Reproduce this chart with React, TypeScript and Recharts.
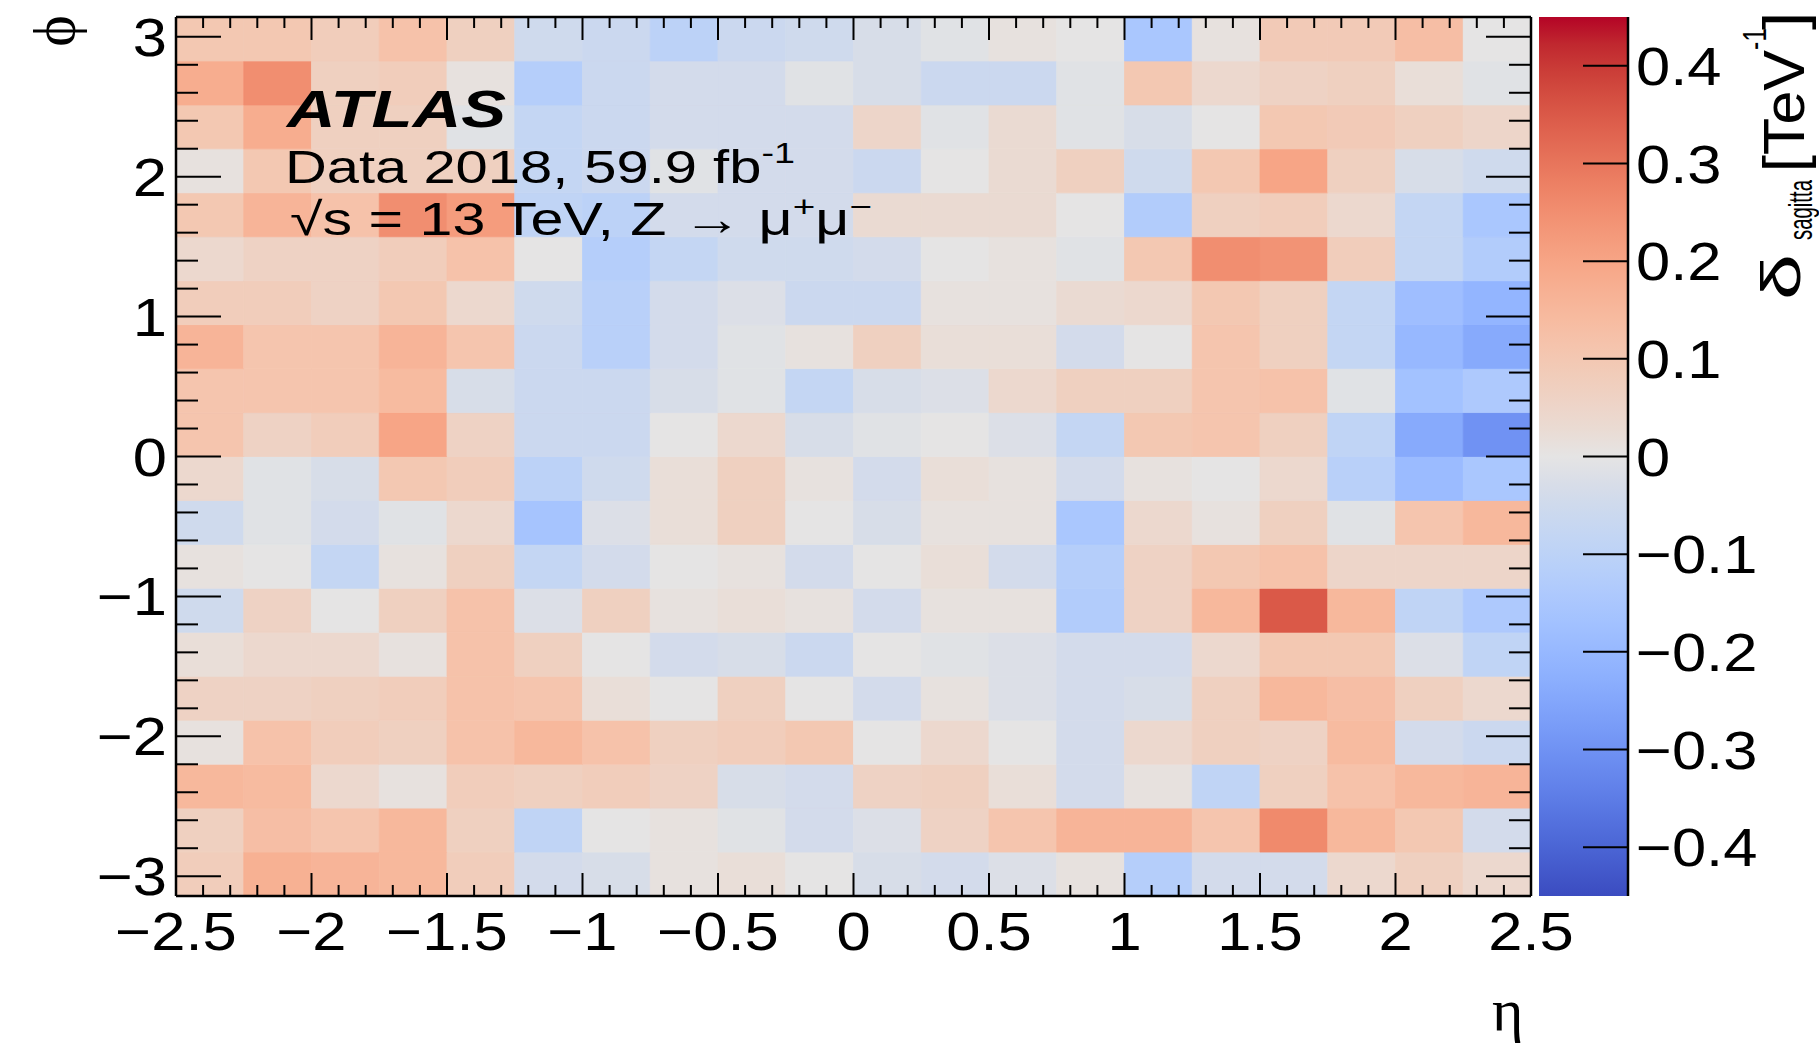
import React from "react";
import { ScatterChart, Scatter, XAxis, YAxis, ReferenceArea } from "recharts";

// bin edges of the 2D histogram
const ETA_EDGES = [
  -2.5, -2.25, -2.0, -1.75, -1.5, -1.25, -1.0, -0.75, -0.5, -0.25, 0,
  0.25, 0.5, 0.75, 1.0, 1.25, 1.5, 1.75, 2.0, 2.25, 2.5,
];
const PHI_EDGES = [
  -3.14159, -2.82743, -2.51327, -2.19911, -1.88496, -1.5708, -1.25664, -0.94248,
  -0.62832, -0.31416, 0, 0.31416, 0.62832, 0.94248, 1.25664, 1.5708, 1.88496,
  2.19911, 2.51327, 2.82743, 3.14159,
];

// delta_sagitta [TeV^-1], one array per phi bin (bottom to top), eta from -2.5 to 2.5
const phiBin01 = [0.08, 0.17, 0.16, 0.15, 0.08, -0.04, -0.03, 0.01, 0.02, 0.0, -0.03, -0.04, -0.02, 0.01, -0.12, -0.04, -0.04, 0.04, 0.07, 0.04];
const phiBin02 = [0.07, 0.13, 0.11, 0.15, 0.07, -0.09, 0.0, 0.01, -0.01, -0.04, -0.02, 0.06, 0.11, 0.16, 0.16, 0.11, 0.26, 0.15, 0.1, -0.04];
const phiBin03 = [0.15, 0.14, 0.04, 0.01, 0.08, 0.07, 0.08, 0.06, -0.03, -0.04, 0.06, 0.07, 0.02, -0.04, 0.01, -0.09, 0.07, 0.12, 0.15, 0.16];
const phiBin04 = [0.01, 0.12, 0.08, 0.07, 0.12, 0.15, 0.12, 0.07, 0.08, 0.1, 0.0, 0.04, 0.0, -0.04, 0.04, 0.07, 0.06, 0.14, -0.04, -0.06];
const phiBin05 = [0.06, 0.06, 0.07, 0.08, 0.12, 0.11, 0.02, 0.0, 0.07, 0.0, -0.04, 0.01, -0.02, -0.04, -0.03, 0.07, 0.15, 0.13, 0.07, 0.04];
const phiBin06 = [0.02, 0.04, 0.04, 0.01, 0.12, 0.07, 0.0, -0.04, -0.03, -0.06, 0.0, -0.01, -0.02, -0.04, -0.04, 0.04, 0.1, 0.1, -0.02, -0.09];
const phiBin07 = [-0.05, 0.06, 0.0, 0.07, 0.12, -0.02, 0.07, 0.01, 0.02, 0.01, -0.04, 0.01, 0.01, -0.13, 0.06, 0.15, 0.35, 0.15, -0.09, -0.14];
const phiBin08 = [0.01, 0.0, -0.08, 0.01, 0.07, -0.08, -0.04, 0.0, 0.01, -0.04, 0.0, 0.02, -0.04, -0.12, 0.06, 0.1, 0.12, 0.05, 0.05, 0.05];
const phiBin09 = [-0.05, -0.01, -0.04, -0.01, 0.04, -0.16, -0.02, 0.02, 0.07, 0.0, -0.03, 0.01, 0.01, -0.15, 0.04, 0.01, 0.07, -0.01, 0.11, 0.15];
const phiBin10 = [0.04, -0.01, -0.03, 0.1, 0.08, -0.1, -0.05, 0.02, 0.07, 0.01, -0.04, 0.02, 0.01, -0.04, 0.01, 0.0, 0.04, -0.11, -0.19, -0.15];
const phiBin11 = [0.11, 0.06, 0.08, 0.2, 0.06, -0.06, -0.06, 0.0, 0.04, -0.03, -0.01, 0.0, -0.02, -0.08, 0.1, 0.11, 0.07, -0.09, -0.24, -0.3];
const phiBin12 = [0.11, 0.11, 0.11, 0.14, -0.03, -0.06, -0.06, -0.03, -0.01, -0.08, -0.03, -0.02, 0.04, 0.07, 0.07, 0.11, 0.12, -0.01, -0.17, -0.14];
const phiBin13 = [0.16, 0.11, 0.11, 0.16, 0.11, -0.06, -0.11, -0.04, -0.01, 0.01, 0.07, 0.02, 0.02, -0.04, 0.0, 0.11, 0.07, -0.08, -0.2, -0.24];
const phiBin14 = [0.08, 0.08, 0.06, 0.1, 0.04, -0.05, -0.11, -0.04, -0.02, -0.06, -0.06, 0.01, 0.01, 0.03, 0.04, 0.1, 0.07, -0.08, -0.18, -0.21];
const phiBin15 = [0.04, 0.06, 0.06, 0.08, 0.12, 0.0, -0.12, -0.08, -0.05, -0.05, -0.04, 0.0, 0.01, -0.01, 0.1, 0.25, 0.24, 0.08, -0.08, -0.13];
const phiBin16 = [0.1, 0.16, 0.12, 0.25, 0.22, -0.09, -0.1, -0.04, -0.04, -0.04, 0.03, 0.03, 0.03, 0.0, -0.13, 0.07, 0.08, 0.04, -0.08, -0.15];
const phiBin17 = [0.01, 0.1, 0.07, 0.07, 0.07, -0.08, -0.06, -0.01, -0.04, -0.04, -0.06, 0.0, 0.03, 0.07, -0.05, 0.1, 0.2, 0.07, -0.03, -0.05];
const phiBin18 = [0.1, 0.18, 0.07, 0.07, -0.01, -0.08, -0.06, -0.04, -0.04, -0.04, 0.05, -0.01, 0.03, -0.01, -0.03, 0.0, 0.1, 0.09, 0.07, 0.05];
const phiBin19 = [0.18, 0.25, 0.07, 0.08, 0.01, -0.12, -0.06, -0.04, -0.04, -0.01, -0.03, -0.06, -0.06, -0.01, 0.1, 0.04, 0.06, 0.07, 0.02, -0.01];
const phiBin20 = [0.1, 0.1, 0.08, 0.12, 0.07, -0.05, -0.06, -0.1, -0.06, -0.05, -0.03, -0.01, 0.01, 0.0, -0.15, 0.01, 0.09, 0.09, 0.13, 0.0];

const PHI_ROWS = [
  phiBin01, phiBin02, phiBin03, phiBin04, phiBin05, phiBin06, phiBin07, phiBin08, phiBin09, phiBin10,
  phiBin11, phiBin12, phiBin13, phiBin14, phiBin15, phiBin16, phiBin17, phiBin18, phiBin19, phiBin20,
];

const ETA_MAJOR = [-2.5, -2, -1.5, -1, -0.5, 0, 0.5, 1, 1.5, 2, 2.5];
const PHI_MAJOR = [-3, -2, -1, 0, 1, 2, 3];
const Z_TICKS = [-0.4, -0.3, -0.2, -0.1, 0, 0.1, 0.2, 0.3, 0.4];
const Z_MIN = -0.45;
const Z_MAX = 0.45;

// minor ticks: 5 per eta major division, 5 per phi unit
const etaTicks: number[] = [];
for (let i = -25; i <= 25; i++) etaTicks.push(i / 10);
const phiTicks: number[] = [];
for (let i = -15; i <= 15; i++) phiTicks.push(i / 5);

// coolwarm palette
const COOLWARM: number[][] = [
  [59, 76, 192], [68, 90, 204], [77, 104, 215], [87, 117, 225], [98, 130, 234],
  [108, 142, 241], [119, 154, 247], [130, 165, 251], [141, 176, 254], [152, 185, 255],
  [163, 194, 255], [174, 201, 253], [184, 208, 249], [194, 213, 244], [204, 217, 238],
  [216, 221, 232], [229, 228, 228], [234, 219, 211], [238, 211, 198], [241, 204, 185],
  [245, 196, 173], [247, 187, 160], [247, 177, 148], [247, 166, 135], [244, 154, 123],
  [241, 141, 111], [236, 127, 99], [229, 112, 88], [222, 96, 77], [213, 80, 66],
  [203, 62, 56], [192, 40, 47], [180, 4, 38],
];

function sagittaColor(v: number) {
  const t = Math.min(1, Math.max(0, (v - Z_MIN) / (Z_MAX - Z_MIN)));
  const p = t * (COOLWARM.length - 1);
  const i = Math.min(COOLWARM.length - 2, Math.floor(p));
  const f = p - i;
  const c = COOLWARM[i].map((a, k) => Math.round(a + (COOLWARM[i + 1][k] - a) * f));
  return `rgb(${c.join(",")})`;
}

const W = 1819;
const H = 1046;
const PLOT = { left: 176, right: 1531, top: 17, bottom: 896 };
const CBAR = { left: 1539, right: 1628 };
const AX = { bottom: 60, top: 10, left: 60, right: 10 };
const FONT = "'Liberation Sans', Arial, Helvetica, sans-serif";
const SERIF = "'Liberation Serif', 'Times New Roman', serif";
const TICK_FONT = 53;
const SX = 1.16;
const FRAME = { stroke: "#000", strokeWidth: 2.5 };

const isMajorOf = (list: number[], v: number) => list.some((m) => Math.abs(m - v) < 1e-6);

function fmt(v: number) {
  const r = Math.round(v * 10) / 10;
  return (r < 0 ? "\u2212" : "") + String(Math.abs(r));
}

const cells = PHI_ROWS.flatMap((row, j) =>
  row.map((v, i) => ({
    x1: ETA_EDGES[i],
    x2: ETA_EDGES[i + 1],
    y1: PHI_EDGES[j],
    y2: PHI_EDGES[j + 1],
    v,
  }))
);
const centers = cells.map((c) => ({ eta: (c.x1 + c.x2) / 2, phi: (c.y1 + c.y2) / 2 }));

const etaTick = (side: "bottom" | "top") => (props: any) => {
  const { x, y, payload } = props;
  const major = isMajorOf(ETA_MAJOR, payload.value);
  const len = major ? 23 : 11;
  const dir = side === "bottom" ? -1 : 1;
  return (
    <g>
      <line x1={x} x2={x} y1={y} y2={y + dir * len} stroke="#000" strokeWidth={2} />
      {side === "bottom" && major && (
        <text
          transform={`translate(${x},${y + 54}) scale(${SX},1)`}
          textAnchor="middle"
          fontFamily={FONT}
          fontSize={TICK_FONT}
          fill="#000"
        >
          {fmt(payload.value)}
        </text>
      )}
    </g>
  );
};

const phiTick = (side: "left" | "right") => (props: any) => {
  const { x, y, payload } = props;
  const major = isMajorOf(PHI_MAJOR, payload.value);
  const len = major ? 45 : 22;
  const dir = side === "left" ? 1 : -1;
  return (
    <g>
      <line x1={x} x2={x + dir * len} y1={y} y2={y} stroke="#000" strokeWidth={2} />
      {side === "left" && major && (
        <text
          transform={`translate(${x - 9},${y + 19}) scale(${SX},1)`}
          textAnchor="end"
          fontFamily={FONT}
          fontSize={TICK_FONT}
          fill="#000"
        >
          {fmt(payload.value)}
        </text>
      )}
    </g>
  );
};

const zTick = (props: any) => {
  const { x, y, payload } = props;
  return (
    <g>
      <line x1={x} x2={x - 45} y1={y} y2={y} stroke="#000" strokeWidth={2} />
      <text
        transform={`translate(${x + 8},${y + 19}) scale(${SX},1)`}
        textAnchor="start"
        fontFamily={FONT}
        fontSize={TICK_FONT}
        fill="#000"
      >
        {fmt(payload.value)}
      </text>
    </g>
  );
};

const noShape = () => <g />;

export default function App() {
  return (
    <div style={{ position: "fixed", left: 0, top: 0, width: W, height: H, background: "#fff", overflow: "hidden" }}>
      <div style={{ position: "absolute", left: 0, top: 0 }}>
        <ScatterChart
          width={W}
          height={H}
          margin={{
            top: PLOT.top - AX.top,
            left: PLOT.left - AX.left,
            right: W - PLOT.right - AX.right,
            bottom: H - PLOT.bottom - AX.bottom,
          }}
        >
          {cells.map((c, k) => {
            const col = sagittaColor(c.v);
            return (
              <ReferenceArea
                key={k}
                xAxisId="eta"
                yAxisId="phi"
                x1={c.x1}
                x2={c.x2}
                y1={c.y1}
                y2={c.y2}
                fill={col}
                fillOpacity={1}
                stroke={col}
                strokeWidth={0.8}
                ifOverflow="visible"
              />
            );
          })}
          <Scatter xAxisId="eta" yAxisId="phi" data={centers} shape={noShape} isAnimationActive={false} />
          <Scatter xAxisId="etaTop" yAxisId="phiRight" data={centers} shape={noShape} isAnimationActive={false} />
          <XAxis
            xAxisId="eta"
            type="number"
            dataKey="eta"
            domain={[-2.5, 2.5]}
            ticks={etaTicks}
            interval={0}
            height={AX.bottom}
            tickSize={0}
            tickMargin={0}
            tickLine={false}
            axisLine={FRAME}
            tick={etaTick("bottom")}
            allowDataOverflow
          />
          <XAxis
            xAxisId="etaTop"
            orientation="top"
            type="number"
            dataKey="eta"
            domain={[-2.5, 2.5]}
            ticks={etaTicks}
            interval={0}
            height={AX.top}
            tickSize={0}
            tickMargin={0}
            tickLine={false}
            axisLine={FRAME}
            tick={etaTick("top")}
            allowDataOverflow
          />
          <YAxis
            yAxisId="phi"
            type="number"
            dataKey="phi"
            domain={[-Math.PI, Math.PI]}
            ticks={phiTicks}
            interval={0}
            width={AX.left}
            tickSize={0}
            tickMargin={0}
            tickLine={false}
            axisLine={FRAME}
            tick={phiTick("left")}
            allowDataOverflow
          />
          <YAxis
            yAxisId="phiRight"
            orientation="right"
            type="number"
            dataKey="phi"
            domain={[-Math.PI, Math.PI]}
            ticks={phiTicks}
            interval={0}
            width={AX.right}
            tickSize={0}
            tickMargin={0}
            tickLine={false}
            axisLine={FRAME}
            tick={phiTick("right")}
            allowDataOverflow
          />
        </ScatterChart>
      </div>

      <div style={{ position: "absolute", left: 0, top: 0 }}>
        <ScatterChart
          width={W}
          height={H}
          margin={{
            top: PLOT.top,
            left: CBAR.left,
            right: W - CBAR.right - AX.right,
            bottom: H - PLOT.bottom,
          }}
        >
          <defs>
            <linearGradient id="zGrad" x1="0" y1="1" x2="0" y2="0">
              {COOLWARM.map((c, i) => (
                <stop key={i} offset={`${(i / (COOLWARM.length - 1)) * 100}%`} stopColor={`rgb(${c.join(",")})`} />
              ))}
            </linearGradient>
          </defs>
          <ReferenceArea
            xAxisId="cb"
            yAxisId="z"
            x1={0}
            x2={1}
            y1={Z_MIN}
            y2={Z_MAX}
            fill="url(#zGrad)"
            fillOpacity={1}
            stroke="none"
            ifOverflow="visible"
          />
          <Scatter xAxisId="cb" yAxisId="z" data={[{ x: 0.5, z: 0 }]} shape={noShape} isAnimationActive={false} />
          <XAxis xAxisId="cb" type="number" dataKey="x" domain={[0, 1]} hide />
          <YAxis
            yAxisId="z"
            orientation="right"
            type="number"
            dataKey="z"
            domain={[Z_MIN, Z_MAX]}
            ticks={Z_TICKS}
            interval={0}
            width={AX.right}
            tickSize={0}
            tickMargin={0}
            tickLine={false}
            axisLine={FRAME}
            tick={zTick}
            allowDataOverflow
          />
        </ScatterChart>
      </div>

      <svg
        width={W}
        height={H}
        style={{ position: "absolute", left: 0, top: 0, pointerEvents: "none" }}
        fontFamily={FONT}
      >
        <text x={287} y={127} fontSize={52} fontWeight="bold" fontStyle="italic" textLength={219} lengthAdjust="spacingAndGlyphs">
          ATLAS
        </text>
        <text x={285} y={183} fontSize={46} textLength={510} lengthAdjust="spacingAndGlyphs">
          Data 2018, 59.9 fb
          <tspan dy={-20} fontSize={30}>-1</tspan>
        </text>
        <text x={290} y={235} fontSize={46} textLength={582} lengthAdjust="spacingAndGlyphs">
          {"\u221As = 13 TeV, Z \u2192 \u03BC"}
          <tspan dy={-18} fontSize={30}>+</tspan>
          <tspan dy={18}>{"\u03BC"}</tspan>
          <tspan dy={-18} fontSize={30}>{"\u2212"}</tspan>
        </text>

        <text
          transform="translate(54,31) rotate(-90)"
          textAnchor="middle"
          dominantBaseline="central"
          fontFamily={SERIF}
          fontSize={60}
        >
          {"\u03D5"}
        </text>
        <text x={1492} y={1030} fontFamily={SERIF} fontSize={60}>
          {"\u03B7"}
        </text>

        <g>
          <text transform="translate(1800,300) rotate(-90)" fontSize={56} textLength={46} lengthAdjust="spacingAndGlyphs">
            {"\u03B4"}
          </text>
          <text transform="translate(1812,240) rotate(-90)" fontSize={34} textLength={60} lengthAdjust="spacingAndGlyphs">
            sagitta
          </text>
          <text transform="translate(1804,172) rotate(-90)" fontSize={58} textLength={122} lengthAdjust="spacingAndGlyphs">
            [TeV
          </text>
          <text transform="translate(1766,50) rotate(-90)" fontSize={34} textLength={22} lengthAdjust="spacingAndGlyphs">
            -1
          </text>
          <text transform="translate(1804,30) rotate(-90)" fontSize={58} textLength={18} lengthAdjust="spacingAndGlyphs">
            ]
          </text>
        </g>
      </svg>
    </div>
  );
}
